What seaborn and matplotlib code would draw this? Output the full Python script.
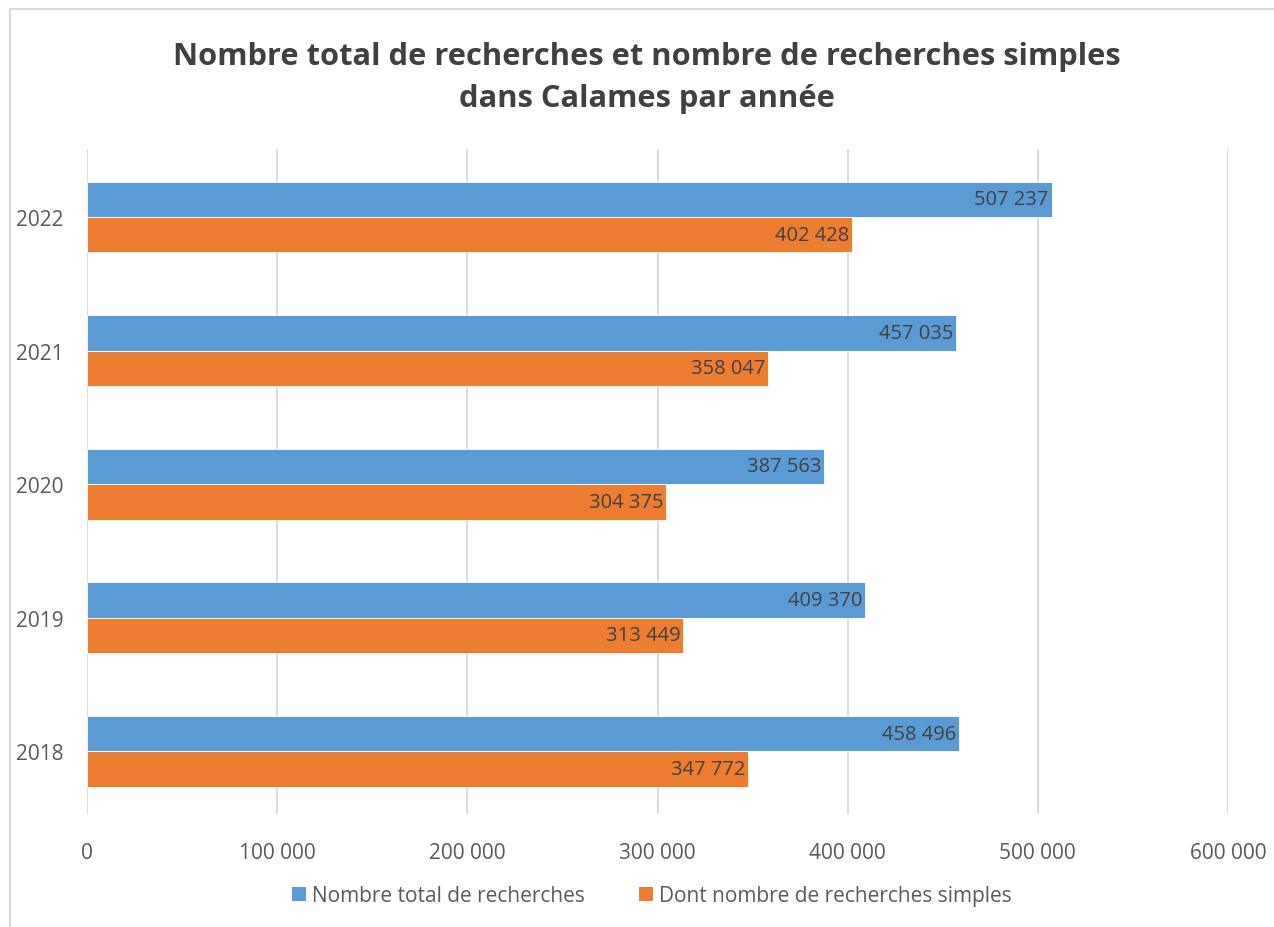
import pandas as pd
import matplotlib.pyplot as plt
import seaborn as sns
from matplotlib.patches import Rectangle, Patch

years = ['2022', '2021', '2020', '2019', '2018']
total = [507237, 457035, 387563, 409370, 458496]
simples = [402428, 358047, 304375, 313449, 347772]
series = ['Nombre total de recherches', 'Dont nombre de recherches simples']
colors = ['#5B9BD5', '#ED7D31']
xticks = [0, 100000, 200000, 300000, 400000, 500000, 600000]


def fmt(v):
    return f'{v:,}'.replace(',', ' ')


df = pd.DataFrame({
    'year': years * 2,
    'value': total + simples,
    'serie': [series[0]] * len(years) + [series[1]] * len(years),
})

sns.set_style('white')
plt.rcParams['font.family'] = ['Open Sans', 'DejaVu Sans']

fig = plt.figure(figsize=(12.74, 9.28), dpi=100)
ax = fig.add_axes([87 / 1274, 1 - 815 / 928, (1228 - 87) / 1274, (815 - 150) / 928])

sns.barplot(data=df, y='year', x='value', hue='serie', order=years,
            hue_order=series, palette=colors, width=0.53, orient='h',
            saturation=1, edgecolor='white', linewidth=0.6, ax=ax, legend=False)

# data labels inside bar ends
for cont in ax.containers:
    texts = ax.bar_label(cont, labels=[fmt(int(v)) for v in cont.datavalues],
                         label_type='edge', padding=-2, fontsize=14.5, color='#404040')
    for t in texts:
        t.set_horizontalalignment('right')

ax.set_xlim(0, 600000)
ax.set_ylim(4.47, -0.51)
ax.set_xticks(xticks)
ax.set_xticklabels([fmt(v) for v in xticks], fontsize=15, color='#595959')
ax.tick_params(axis='y', labelsize=15, labelcolor='#595959', pad=17)
ax.tick_params(axis='x', pad=20, length=0)
ax.tick_params(axis='y', length=0)
ax.set_xlabel('')
ax.set_ylabel('')
ax.xaxis.grid(True, color='#D9D9D9', linewidth=1.3)
ax.set_axisbelow(True)
for s in ax.spines.values():
    s.set_visible(False)

fig.text(647 / 1274, 1 - 78 / 928, 'Nombre total de recherches et nombre de recherches simples\ndans Calames par année',
         ha='center', va='center', fontsize=22.2, fontweight='bold', color='#404040',
         linespacing=1.5)

handles = [Patch(facecolor=c, edgecolor='none') for c in colors]
fig.legend(handles, series, loc='center', bbox_to_anchor=(652 / 1274, 1 - 897 / 928),
           ncol=2, frameon=False, fontsize=15, labelcolor='#595959',
           handlelength=0.65, handleheight=0.65, handletextpad=0.3,
           columnspacing=2.6)

fig.patches.append(Rectangle((10 / 1274, -0.01), 1.1, 1 - 10 / 928 + 0.01,
                             transform=fig.transFigure, fill=False,
                             edgecolor='#D9D9D9', linewidth=1.5))

fig.savefig('out.png', dpi=100)
